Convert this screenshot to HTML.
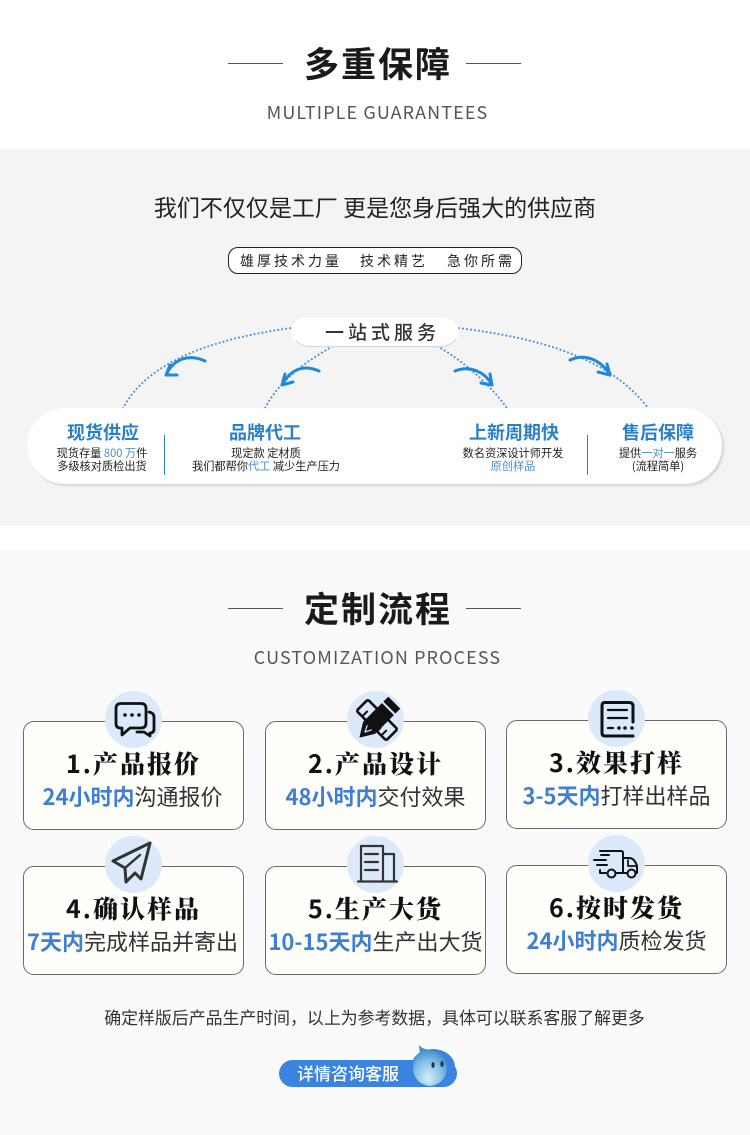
<!DOCTYPE html>
<html><head><meta charset="utf-8">
<style>
html,body{margin:0;padding:0}
body{width:750px;height:1135px;position:relative;overflow:hidden;background:#fff;font-family:"Liberation Sans","Noto Sans CJK SC",sans-serif}
.a{position:absolute}
.t{position:absolute;text-align:center;white-space:nowrap;font-family:"Noto Sans CJK SC","Liberation Sans",sans-serif}
.h{font-size:35px;font-weight:700;color:#1a1a1a;letter-spacing:2px;line-height:40px;left:0;width:756px}
.e{font-size:18px;color:#555;letter-spacing:1.1px;line-height:24px;left:0;width:755px}
.l{position:absolute;height:1px;background:#555;width:55px}
.card{position:absolute;width:219px;height:107px;background:#fffefa;border:1px solid #6b6b6b;border-radius:11px}
.circ{position:absolute;width:57px;height:57px;border-radius:50%;background:#dbe9fb}
.st{font-family:"Noto Serif CJK SC","Liberation Serif",serif;font-weight:900;font-size:25px;letter-spacing:2px;color:#111;line-height:34px;width:221px}
.st i{font-style:normal;font-family:"Noto Sans CJK SC",sans-serif;font-weight:700}
.sb{font-size:22px;color:#333;line-height:30px;width:221px}
.sb b{color:#3f7fd2;font-weight:700}
.ti{font-size:18px;font-weight:700;color:#2a7fc9;line-height:22px}
.sm{font-size:11.2px;color:#222;line-height:12.5px}
.sm span{color:#4a90d0}
.p{position:absolute;top:251px;font-size:14px;color:#222;letter-spacing:3px;line-height:20px;white-space:nowrap;font-family:"Noto Sans CJK SC",sans-serif}
</style></head><body>
<div class="a" style="left:0;top:149px;width:750px;height:377px;background:#f4f4f4"></div>
<div class="a" style="left:0;top:550px;width:750px;height:585px;background:#fafafa"></div>

<div class="l" style="left:228px;top:63px"></div><div class="l" style="left:466px;top:63px"></div>
<div class="t h" style="top:43px">多重保障</div>
<div class="t e" style="top:100px">MULTIPLE GUARANTEES</div>

<div class="t" style="left:0;width:750px;top:190px;font-size:23px;color:#222;line-height:32px">我们不仅仅是工厂 更是您身后强大的供应商</div>
<div class="a" style="left:228px;top:247px;width:292px;height:25px;border:1px solid #222;border-radius:10px;background:#fff"></div>
<div class="p" style="left:240px">雄厚技术力量</div>
<div class="p" style="left:360px">技术精艺</div>
<div class="p" style="left:447px">急你所需</div>

<div class="a" style="left:27px;top:408px;width:695px;height:76px;background:#fff;border-radius:38px;box-shadow:2px 2px 2px #d4d4d4"></div>
<svg class="a" style="left:0;top:300px" width="750" height="120" viewBox="0 300 750 120" fill="none">
<g stroke="#3a8bd8" stroke-width="1.8" stroke-dasharray="1.8 2.2">
<path d="M291 328C220 338 150 358 123 408"/>
<path d="M333 346C305 362 280 380 265 408"/>
<path d="M437 346C465 362 490 385 507 408"/>
<path d="M458 328C540 338 610 358 648 408"/>
</g>
<g stroke="#1f88dc" stroke-linecap="round" stroke-linejoin="round" stroke-width="3">
<path d="M205 361C190 354 175 358 167 373"/><path d="M166 375L177 375M166 375L170 365"/>
<path d="M319 371C303 364 291 370 283 383"/><path d="M282 385L293 382M282 385L285 374"/>
<path d="M455 371C470 365 484 372 491 383"/><path d="M492 385L481 383M492 385L490 374"/>
<path d="M570 360C585 353 600 360 609 373"/><path d="M610 375L598 372M610 375L607 364"/>
</g>
<rect x="291" y="318" width="168" height="28" rx="14" fill="#fff"/>
<path d="M296 341Q302 346.500 310 346.500H440Q450 346.500 456 339" stroke="#d8d8d8" stroke-width="1.2"/>
</svg>
<div class="t" style="left:325px;top:319px;font-size:19px;font-weight:500;color:#333;letter-spacing:4px;line-height:26px">一站式服务</div>

<div class="t ti" style="left:43px;width:120px;top:421px">现货供应</div>
<div class="t sm" style="left:42px;width:120px;top:447px">现货存量 <span>800 万</span>件<br>多级核对质检出货</div>
<div class="a" style="left:164px;top:435px;width:1px;height:40px;background:#2a7fc9"></div>
<div class="t ti" style="left:205px;width:120px;top:421px">品牌代工</div>
<div class="t sm" style="left:176px;width:180px;top:447px">现定款 定材质<br>我们都帮你<span>代工</span> 减少生产压力</div>
<div class="t ti" style="left:454px;width:120px;top:421px">上新周期快</div>
<div class="t sm" style="left:453px;width:120px;top:447px">数名资深设计师开发<br><span>原创样品</span></div>
<div class="a" style="left:587px;top:435px;width:1px;height:40px;background:#2a7fc9"></div>
<div class="t ti" style="left:598px;width:120px;top:421px">售后保障</div>
<div class="t sm" style="left:598px;width:120px;top:447px">提供<span>一对一</span>服务<br>(流程简单)</div>

<div class="l" style="left:228px;top:608px"></div><div class="l" style="left:466px;top:608px"></div>
<div class="t h" style="top:588px">定制流程</div>
<div class="t e" style="top:645px">CUSTOMIZATION PROCESS</div>

<div class="card" style="left:23px;top:721px"></div>
<div class="card" style="left:265px;top:721px"></div>
<div class="card" style="left:506px;top:720px"></div>
<div class="card" style="left:23px;top:866px"></div>
<div class="card" style="left:265px;top:866px"></div>
<div class="card" style="left:506px;top:865px"></div>
<div class="circ" style="left:105px;top:691px"></div>
<div class="circ" style="left:347px;top:691px"></div>
<div class="circ" style="left:588px;top:690px"></div>
<div class="circ" style="left:105px;top:836px"></div>
<div class="circ" style="left:347px;top:836px"></div>
<div class="circ" style="left:588px;top:835px"></div>

<svg class="a" style="left:0;top:0" width="750" height="1135" fill="none" stroke="#111" stroke-linejoin="round" stroke-linecap="round">
<!-- chat -->
<path d="M121 703.500H141Q146 703.500 146 708.500V723Q146 728 141 728H130L122 735V728H120Q116 728 116 723V708.500Q116 703.500 121 703.500Z" stroke-width="2.8"/>
<path d="M149 712Q154 713 154 717V729Q154 733 150 733V736L144 732H137" stroke-width="2.8"/>
<g fill="#111" stroke="none"><circle cx="125" cy="715" r="1.8"/><circle cx="132" cy="715" r="1.8"/><circle cx="139" cy="715" r="1.8"/></g>
<!-- ruler + pencil -->
<g transform="translate(377 720) rotate(-45)">
<rect x="-8" y="-21" width="16" height="42" rx="2" fill="#dbe9fb" stroke-width="2.6"/>
<path d="M-7 -13H-1M-7 -7H-3M-7 8H-3M-7 14H-1" stroke-width="2"/>
</g>
<g transform="translate(377 720) rotate(45)">
<path d="M-8 -24H8V-18H-8ZM-8 -15H8V11L0 24L-8 11Z" fill="#111" stroke="#111" stroke-width="1"/>
<path d="M-3 11L0 17L3 11" stroke="#dbe9fb" stroke-width="1.2"/>
</g>
<!-- doc -->
<path d="M633 722V706Q633 702.500 629 702.500H605Q602 702.500 602 705.500V733Q602 736 605 736H633" stroke-width="3"/>
<path d="M608 710H627M608 718H627M608 728H613" stroke-width="2.3"/>
<g fill="#111" stroke="none"><circle cx="619" cy="728" r="1.8"/><circle cx="625" cy="728" r="1.8"/><circle cx="632" cy="728" r="1.8"/></g>
<!-- plane -->
<path d="M150 843L113 861L125 868L126 882L135 873L141 879Z" stroke="#333" stroke-width="3"/>
<path d="M125 868L140 855" stroke="#333" stroke-width="2.4"/>
<!-- building -->
<path d="M361 881V846H383V881M383 854H394V881M358 881.500H397" stroke="#333" stroke-width="2.2"/>
<path d="M365 854H378M365 862H378M365 870H378" stroke="#333" stroke-width="2.2"/>
<!-- truck -->
<path d="M600 851H621Q623 851 623 853V873H616M606 873H600V870" stroke-width="2"/>
<path d="M623 858H630Q635 859 637 866V873H636M623 873H627M594 860H606M597 865H607M601 855H609" stroke-width="2"/>
<path d="M628 860V866H637" stroke-width="1.7"/>
<circle cx="611.500" cy="873.500" r="4" stroke-width="2"/><circle cx="631.500" cy="873.500" r="4" stroke-width="2"/>
</svg>

<div class="t st" style="left:23px;top:746px"><i>1.</i>产品报价</div>
<div class="t sb" style="left:22px;top:781px"><b>24小时内</b>沟通报价</div>
<div class="t st" style="left:265px;top:746px"><i>2.</i>产品设计</div>
<div class="t sb" style="left:265px;top:781px"><b>48小时内</b>交付效果</div>
<div class="t st" style="left:506px;top:745px"><i>3.</i>效果打样</div>
<div class="t sb" style="left:506px;top:780px"><b>3-5天内</b>打样出样品</div>
<div class="t st" style="left:23px;top:891px"><i>4.</i>确认样品</div>
<div class="t sb" style="left:22px;top:926px"><b>7天内</b>完成样品并寄出</div>
<div class="t st" style="left:265px;top:891px"><i>5.</i>生产大货</div>
<div class="t sb" style="left:265px;top:926px"><b>10-15天内</b>生产出大货</div>
<div class="t st" style="left:506px;top:890px"><i>6.</i>按时发货</div>
<div class="t sb" style="left:506px;top:925px"><b>24小时内</b>质检发货</div>

<div class="t" style="left:0;width:749px;top:1006px;font-size:16.900px;color:#333;line-height:22px">确定样版后产品生产时间，以上为参考数据，具体可以联系客服了解更多</div>
<div class="a" style="left:279px;top:1060px;width:178px;height:27px;border-radius:14px;background:#3a84e0"></div>
<div class="t" style="left:297px;top:1061px;font-size:17px;color:#fff;line-height:24px;font-weight:500">详情咨询客服</div>
<svg class="a" style="left:405px;top:1040px" width="50" height="50" viewBox="0 0 50 50">
<defs><radialGradient id="q" cx="45%" cy="80%" r="70%"><stop offset="0" stop-color="#d6eef8"/><stop offset=".6" stop-color="#7fbfe6"/><stop offset="1" stop-color="#3d8dc9"/></radialGradient></defs>
<ellipse cx="28" cy="27" rx="22" ry="18" fill="#3a84e0"/>
<path d="M14 5Q17 9 25 10Q41 13 42 27Q41 44 25 46Q9 44 8 28Q8 17 15 12Q14 8 14 5Z" fill="url(#q)"/>
<ellipse cx="28" cy="25" rx="1.6" ry="3" fill="#234"/><ellipse cx="37" cy="24" rx="1.6" ry="3" fill="#234"/>
</svg>
</body></html>
